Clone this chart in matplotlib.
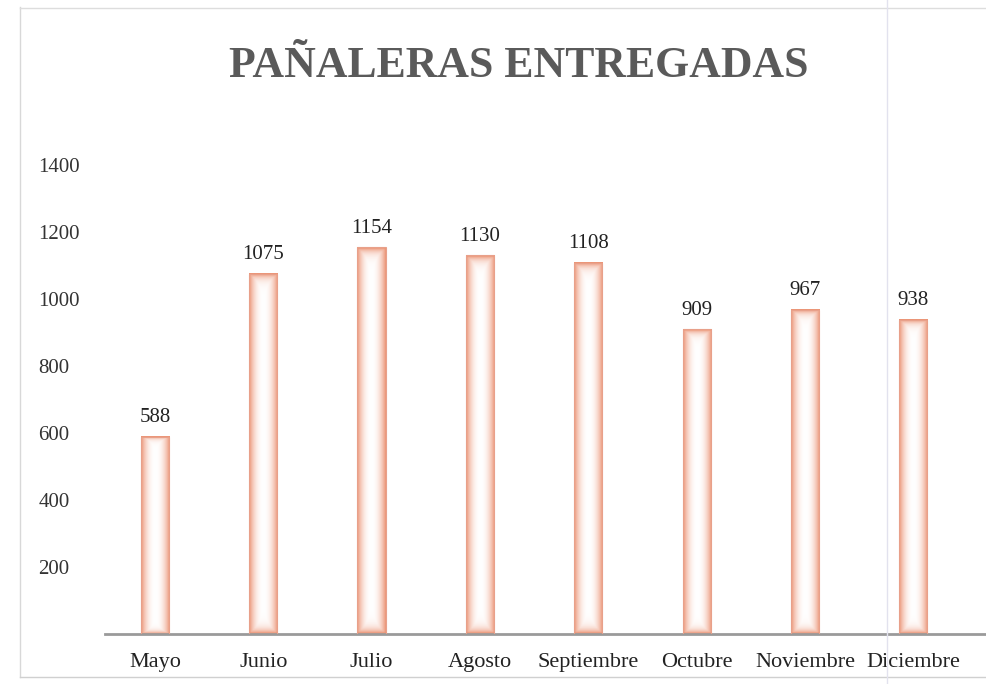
import numpy as np
import matplotlib.pyplot as plt
from matplotlib.lines import Line2D

meses = ['Mayo', 'Junio', 'Julio', 'Agosto', 'Septiembre', 'Octubre', 'Noviembre', 'Diciembre']
entregadas = [588, 1075, 1154, 1130, 1108, 909, 967, 938]
yticks = [200, 400, 600, 800, 1000, 1200, 1400]

plt.rcParams['font.family'] = ['Liberation Serif', 'DejaVu Serif']

fig = plt.figure(figsize=(9.86, 6.84), dpi=100)
ax = fig.add_axes([0.1065, 0.0731, 0.8935, 0.735])

x = np.arange(len(meses))
ancho = 0.26

# degradado: bordes salmon, centro blanco
borde = np.array([236, 150, 120]) / 255.0
u = np.linspace(-1, 1, 60)
v = np.linspace(-1, 1, 200)
U, V = np.meshgrid(u, v)
t = np.clip(np.maximum(np.abs(U) ** 2.2, np.abs(V) ** 40), 0, 1)
img = np.ones((200, 60, 3)) * (1 - t[..., None]) + borde * t[..., None]

for xi, val in zip(x, entregadas):
    ax.imshow(img, extent=[xi - ancho / 2, xi + ancho / 2, 0, val],
              aspect='auto', interpolation='bilinear', zorder=2)
    ax.annotate(str(val), (xi, val), xytext=(0, 7), textcoords='offset points',
                ha='center', va='bottom', fontsize=15, color='#222222')

bars = ax.bar(x, entregadas, width=ancho, facecolor='none',
              edgecolor='#e8a08a', linewidth=0.8, zorder=3)

ax.set_xlim(-0.46, 7.67)
ax.set_ylim(0, 1500)
ax.set_yticks(yticks)
ax.set_yticklabels([str(t) for t in yticks], fontsize=15, color='#333333', ha='left')
ax.set_xticks(x)
ax.set_xticklabels(meses, fontsize=16, color='#222222')
ax.tick_params(length=0, axis='y', pad=48)
ax.tick_params(length=0, axis='x', pad=14)

for s in ['top', 'right', 'left']:
    ax.spines[s].set_visible(False)
ax.spines['bottom'].set_color('#9a9a9a')
ax.spines['bottom'].set_linewidth(2)

fig.text(0.526, 0.903, 'PAÑALERAS ENTREGADAS', ha='center', va='center',
         fontsize=31.5, fontweight='bold', color='#5a5a5a')

# marco tenue del escaneo
fig.add_artist(Line2D([0.02, 0.02], [0.01, 0.99], color='#d8d8d8', lw=1))
fig.add_artist(Line2D([0.02, 1.0], [0.988, 0.988], color='#dddddd', lw=1))
fig.add_artist(Line2D([0.02, 1.0], [0.01, 0.01], color='#d0d0d0', lw=1))
fig.add_artist(Line2D([0.9, 0.9], [0.0, 1.0], color='#e2e2ee', lw=1))

fig.savefig('out.png', dpi=100)
